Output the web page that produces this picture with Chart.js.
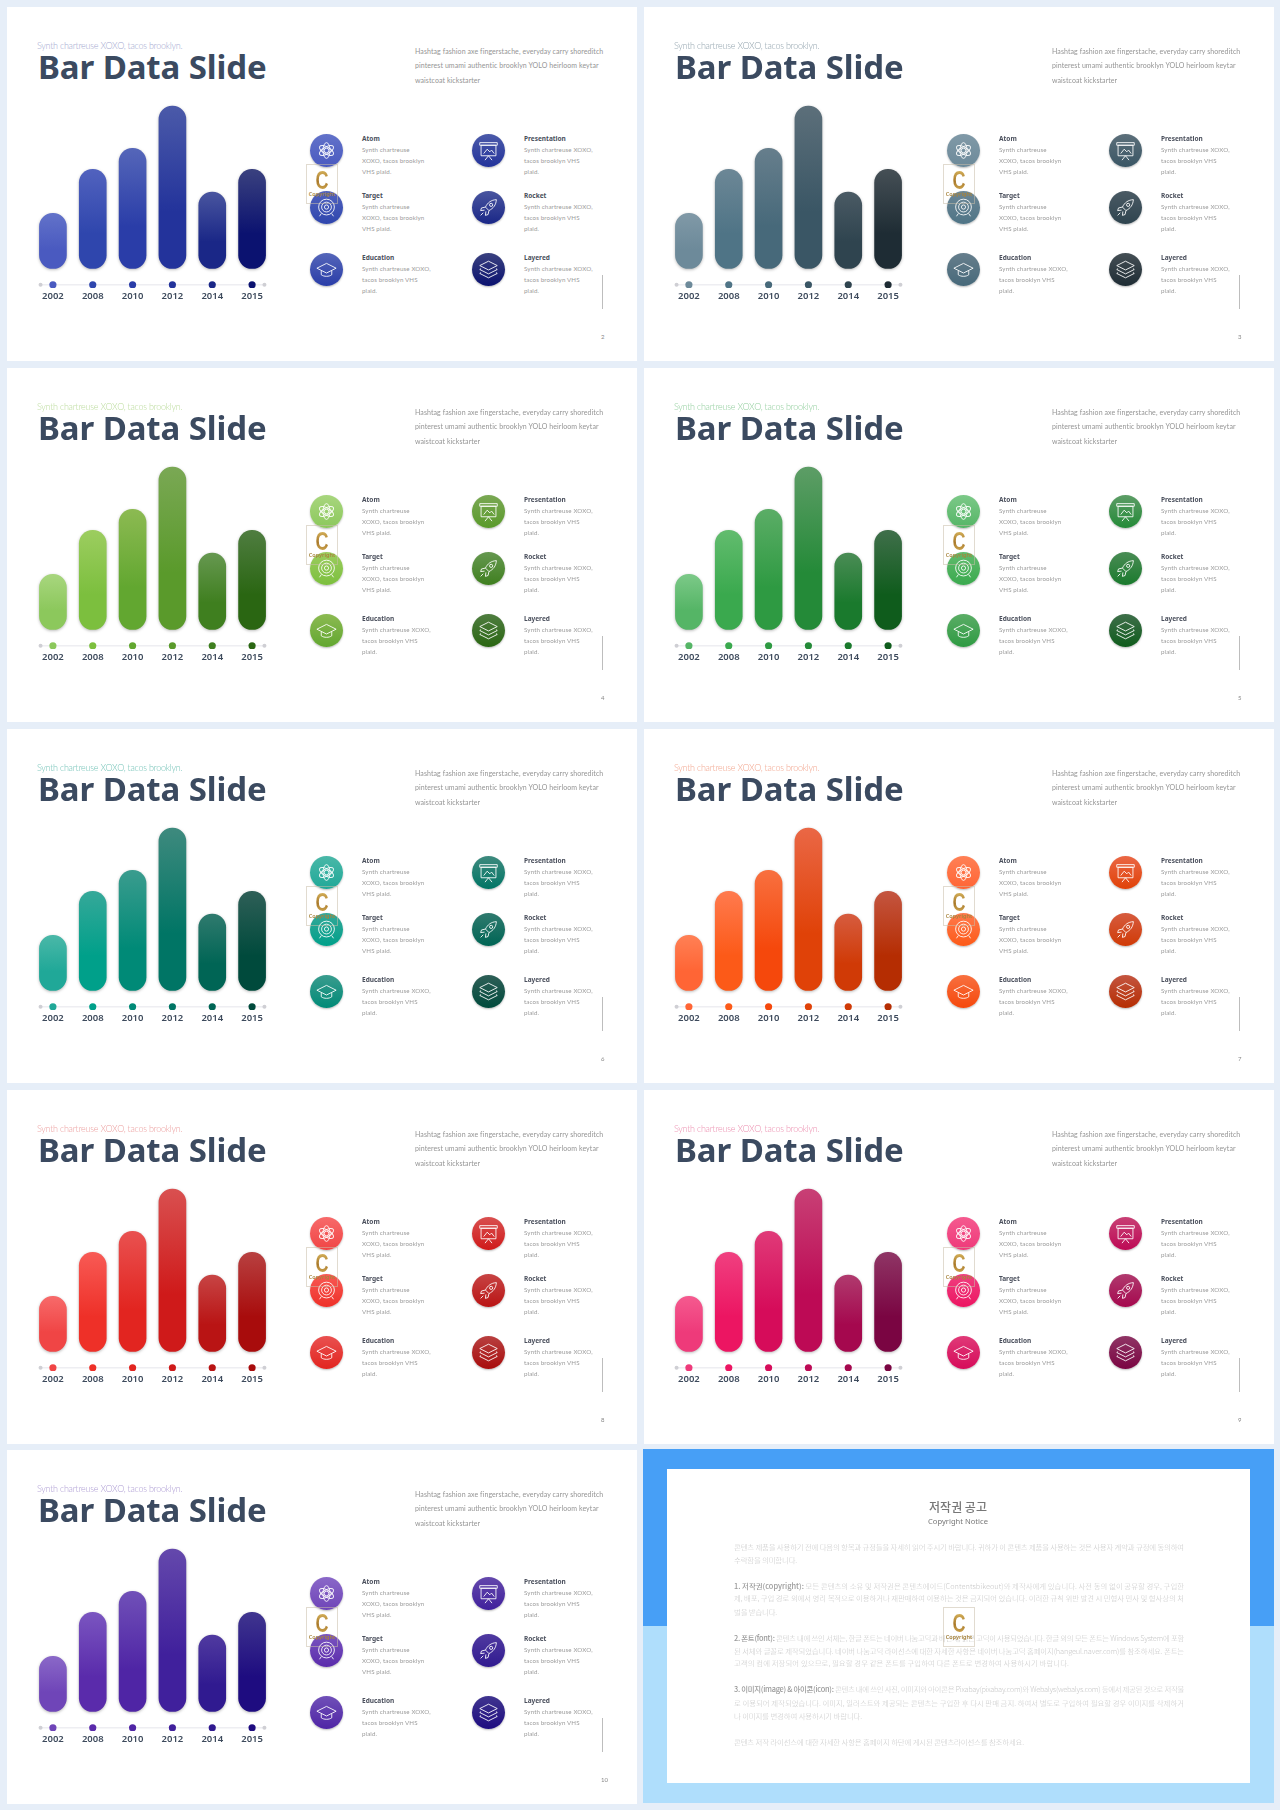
<![CDATA[<!DOCTYPE html>
<html lang="en"><head><meta charset="utf-8">
<script src="https://cdn.jsdelivr.net/npm/chart.js@4"></script>
<style>
html,body{margin:0;padding:0;background:#e6eef8;width:1280px;height:1810px;overflow:hidden}
#page{position:relative;width:1280px;height:1810px;filter:blur(.3px)}
.panel{position:absolute;width:630px;height:354px;background:#fff;overflow:hidden}
.t{position:absolute;white-space:nowrap}
canvas{position:absolute;display:block}
.ball{position:absolute;width:33px;height:33px;border-radius:50%;display:flex;align-items:center;justify-content:center;box-shadow:0 1px 2px rgba(0,0,0,.28)}
.mark{position:absolute;width:30px;height:38px;border:1px solid rgba(200,190,170,.55);box-sizing:content-box}
.mark b{position:absolute;left:0;right:0;top:2px;text-align:center;font:bold 25px/26px "Liberation Sans";transform:scaleX(.72);background:linear-gradient(180deg,#e2c26a,#a9792a 55%,#d9b45c);-webkit-background-clip:text;background-clip:text;color:transparent}
.mark i{position:absolute;left:0;right:0;top:26px;text-align:center;font:normal 600 5.500px/6px "Noto Sans";color:#a8843c}
</style></head><body><div id="page"></div>
<script>
const CATEGORIES=['2002','2008','2010','2012','2014','2015'];
const VALUES=[34,61,74,100,47,61];
const MARKER_LEVEL=[-10,-10,-10,-10,-10,-10];
const RAIL_X=[-0.31,5.31];
const RAIL_LEVEL=[-10,-10];
const PAGE_NUMBERS=['2','3','4','5','6','7','8','9','10'];
const TITLE='Bar Data Slide';
const SUBTITLE='Synth chartreuse XOXO, tacos brooklyn.';
const INTRO=['Hashtag fashion axe fingerstache, everyday carry shoreditch','pinterest umami authentic brooklyn YOLO heirloom keytar','waistcoat kickstarter'];
const ITEM_NAMES=['Atom','Target','Education','Presentation','Rocket','Layered'];
const LINES_NARROW=['Synth chartreuse','XOXO, tacos brooklyn','VHS plaid.'];
const LINES_WIDE=['Synth chartreuse XOXO,','tacos brooklyn VHS','plaid.'];

const PALETTES=[
 [['#6272c9','#4a5ac0'],['#5162be','#2f46ad'],['#5566b9','#2a3da8'],['#4b5aa9','#23339b'],['#49559f','#1a2787'],['#3a417f','#0b1270']],
 [['#8099a7','#6d8a9a'],['#6c8796','#4f7486'],['#667e8c','#47697a'],['#5c6f7a','#3a5665'],['#4a5a64','#2f444f'],['#454f55','#1e2c34']],
 [['#a8d67e','#8cc85c'],['#9ccd5f','#7cbf3e'],['#8cba52','#62a730'],['#7aa854','#5a9a2b'],['#669850','#3f7f1f'],['#4f7d40','#2a6612']],
 [['#7cc988','#55b566'],['#62bc6e','#3aa94e'],['#5bad66','#2e9a42'],['#5d9d66','#248a38'],['#4a8c55','#1a7a2d'],['#3f6f4a','#0f5c1c']],
 [['#4ab8a8','#20a898'],['#35a899','#00a08a'],['#3a9c8e','#008a77'],['#3e8a7e','#007565'],['#2f7a6e','#006555'],['#2e5f57','#004a3c']],
 [['#ff8055','#ff6535'],['#ff7a4e','#fc5a18'],['#f8703f','#f5480c'],['#ea6745','#e04208'],['#d65c3f','#d03a06'],['#c45540','#b52d02']],
 [['#f76a6a','#f04545'],['#f85a55','#ee3028'],['#e95150','#e22520'],['#d95050','#cf1a1a'],['#c74444','#b91414'],['#b84040','#a80c0c']],
 [['#f55a8f','#ee3a7a'],['#f04080','#ec1562'],['#e03a78','#d60c5a'],['#c84075','#bd0a55'],['#b03a6e','#a5084e'],['#8f3565','#7a0542']],
 [['#8a68c8','#6f45b8'],['#7a55c0','#5a2bab'],['#7050b8','#4f25a5'],['#6448ac','#40209c'],['#503aa0','#301a90'],['#40358f','#1e0c80']]
];
const SUB_COLORS=['#a3a8cf','#93a4ae','#bcdc9e','#94cf9f','#77c4b9','#f2a68f','#ec9f9f','#ec90b0','#ad9cd3'];

const ICONS={
 Atom:'<circle cx="12" cy="12" r="2.6"/><ellipse cx="12" cy="12" rx="4" ry="9"/><ellipse cx="12" cy="12" rx="4" ry="9" transform="rotate(60 12 12)"/><ellipse cx="12" cy="12" rx="4" ry="9" transform="rotate(120 12 12)"/>',
 Target:'<circle cx="12" cy="11.5" r="9"/><circle cx="12" cy="11.5" r="5.6"/><circle cx="12" cy="11.5" r="2.4"/><path d="M6 19l-2 3M18 19l2 3"/>',
 Education:'<path d="M12 5L23 10.5 12 16 1 10.5z"/><path d="M6 13.5V18c3 2.4 9 2.4 12 0v-4.5"/>',
 Presentation:'<rect x="2" y="3" width="20" height="3"/><rect x="3.5" y="6" width="17" height="12"/><path d="M6.5 15.5l4-5 3 3 2-2 3 4M12 18l-4 5M12 18l4 5"/>',
 Rocket:'<path d="M21 3c-6 .4-10 3.4-12.5 8.5l4 4C17.600 13 20.600 9 21 3z"/><path d="M8.500 11.500L4 12.500l-1 3 4.500-.5M12.500 15.500l-1 4.500-3 1 .5-4.500"/><circle cx="15" cy="9" r="1.800"/><path d="M6 18l-3 3"/>',
 Layered:'<path d="M12 2.500L22 7.500 12 12.500 2 7.500z"/><path d="M3.500 11L2 12l10 5 10-5-1.500-1"/><path d="M3.500 15.500L2 16.500l10 5 10-5-1.500-1"/>'
};

const page=document.getElementById('page');
function txt(parent,s,x,yc,font,color,ls){
  const d=document.createElement('div');d.className='t';d.textContent=s;
  const m=/(\d+(?:\.\d+)?)px/.exec(font);const lh=+m[1];
  d.style.cssText=`left:${x}px;top:${yc-lh/2}px;font:${font};line-height:${lh}px;color:${color};letter-spacing:${ls||0}px`;
  parent.appendChild(d);return d;
}
function mark(parent,x,y){const w=document.createElement('div');w.className='mark';w.style.left=x+'px';w.style.top=y+'px';w.innerHTML='<b>C</b><i>Copyright</i>';parent.appendChild(w);}

const barShadow={id:'barShadow',
 beforeDatasetDraw(c,a){if(a.meta.type==='bar'){const x=c.ctx;x.save();x.shadowColor='rgba(0,0,0,.28)';x.shadowBlur=3;x.shadowOffsetY=1;}},
 afterDatasetDraw(c,a){if(a.meta.type==='bar')c.ctx.restore();}};

function slide(idx,left,top,chartLeft){
  const pal=PALETTES[idx];
  const p=document.createElement('div');p.className='panel';p.style.left=left+'px';p.style.top=top+'px';page.appendChild(p);
  txt(p,SUBTITLE,30,38,'300 9px Lato',SUB_COLORS[idx],-0.26);
  txt(p,TITLE,31,59.5,'700 33px "Noto Sans"','#3b4a60',-0.1);
  INTRO.forEach((l,i)=>txt(p,l,408,[44,58.5,73][i],'400 7px Lato','#949494',0.08));
  const names=ITEM_NAMES, cols=[319,481], texts=[355,517], ys=[143,200,262];
  names.forEach((n,i)=>{
    const c=i<3?0:1,r=i%3;
    const ball=document.createElement('div');ball.className='ball';
    ball.style.left=(cols[c]-16.5)+'px';ball.style.top=(ys[r]-16.5)+'px';
    ball.style.background=`linear-gradient(180deg,${pal[i][0]},${pal[i][1]})`;
    ball.innerHTML=`<svg width="21" height="21" viewBox="0 0 24 24" fill="none" stroke="#fff" stroke-width="1.100" stroke-opacity=".9" stroke-linejoin="round">${ICONS[n]}</svg>`;
    p.appendChild(ball);
    const y0=[132,189,251][r];
    txt(p,n,texts[c],y0,'700 6.500px "Noto Sans"','#4a4f5c',0);
    const lines=(i<2)?LINES_NARROW:LINES_WIDE;
    lines.forEach((l,j)=>txt(p,l,texts[c],y0+11+j*11,'400 6.200px Lato','#9b9b9b',0.12));
  });
  const v=document.createElement('div');v.style.cssText='position:absolute;left:595px;top:268px;width:1px;height:34px;background:#bdbdbd';p.appendChild(v);
  txt(p,PAGE_NUMBERS[idx],594,330,'400 6px Lato','#888',0);
  mark(p,299,157);

  const cv=document.createElement('canvas');cv.width=239;cv.height=208;cv.style.left=chartLeft+'px';cv.style.top='91px';p.appendChild(cv);
  new Chart(cv,{
    data:{labels:CATEGORIES,datasets:[
      {type:'bar',xAxisID:'x',yAxisID:'y',data:VALUES,grouped:false,barPercentage:1,categoryPercentage:1,maxBarThickness:27,borderRadius:14,borderSkipped:false,order:3,
       backgroundColor(ctx){
         const ch=ctx.chart;const ys=ch.scales.y;
         if(!ch.chartArea||!ys||ctx.parsed===undefined)return pal[ctx.dataIndex][1];
         const g=ch.ctx.createLinearGradient(0,ys.getPixelForValue(ctx.parsed.y),0,ys.getPixelForValue(0));
         g.addColorStop(0,pal[ctx.dataIndex][0]);g.addColorStop(.65,pal[ctx.dataIndex][1]);g.addColorStop(1,pal[ctx.dataIndex][1]);
         return g;
       }},
      {type:'line',xAxisID:'x2',yAxisID:'y',data:RAIL_X.map((x,i)=>({x,y:RAIL_LEVEL[i]})),borderColor:'#eeeef2',borderWidth:1.500,pointRadius:2,pointBackgroundColor:'#cfcfd4',pointBorderWidth:0,order:2},
      {type:'line',xAxisID:'x',yAxisID:'y',data:MARKER_LEVEL,showLine:false,pointRadius:3.600,pointBorderWidth:0,pointBackgroundColor:pal.map(c=>c[1]),order:1}
    ]},
    options:{responsive:false,animation:false,devicePixelRatio:1,
      layout:{padding:0,autoPadding:false},
      plugins:{legend:{display:false},tooltip:{enabled:false}},
      scales:{
        x:{offset:true,grid:{display:false,drawTicks:false},border:{display:false},
           afterFit(s){s.height=18;s.paddingLeft=0;s.paddingRight=0;s.paddingTop=0;s.paddingBottom=0;},
           ticks:{padding:3,color:'#3d4a5c',maxRotation:0,autoSkip:false,font:{family:'"Noto Sans"',size:9.500,weight:'600'}}},
        x2:{axis:'x',type:'linear',display:false,min:-0.5,max:5.5},
        y:{display:false,min:-12,max:105}
      }},
    plugins:[barShadow]
  });
}

const ROW_TOPS=[7,368,729,1090,1450];
const COL_LEFTS=[7,644];
const CHART_LEFTS=[26,25];
let n=0;
for(let r=0;r<5;r++)for(let c=0;c<2;c++){ if(n<9){slide(n,COL_LEFTS[c],ROW_TOPS[r],CHART_LEFTS[c]);n++;} }

/* copyright notice */
const NOTICE_TITLE='저작권 공고', NOTICE_SUB='Copyright Notice';
const NOTICE=[
 [1547,450,'','콘텐츠 제품을 사용하기 전에 다음의 항목과 규정들을 자세히 읽어 주시기 바랍니다. 귀하가 이 콘텐츠 제품을 사용하는 것은 사용자 계약과 규정에 동의하여'],
 [1560,63,'','수락함을 의미합니다.'],
 [1586,450,'1. 저작권(copyright):',' 모든 콘텐츠의 소유 및 저작권은 콘텐츠에이드(Contentsbikeout)와 제작사에게 있습니다. 사전 동의 없이 공유할 경우, 구입한'],
 [1598,450,'','제, 배포, 구입 경로 외에서 영리 목적으로 이용하거나 재판매하여 이용하는 것은 금지되어 있습니다. 이러한 규칙 위반 발견 시 민형사 민사 및 형사상의 처'],
 [1612,43,'','벌을 받습니다.'],
 [1638,450,'2. 폰트(font):',' 콘텐츠 내에 쓰인 서체는, 한글 폰트는 네이버 나눔고딕과 배민체, 맑은 고딕이 사용되었습니다. 한글 외의 모든 폰트는 Windows System에 포함'],
 [1651,450,'','된 서체와 글꼴로 제작되었습니다. 네이버 나눔고딕 라이선스에 대한 자세한 사항은 네이버 나눔고딕 홈페이지(hangeul.naver.com)를 참조하세요. 폰트는'],
 [1663,335,'','고객의 컴에 저장되어 있으므로, 필요할 경우 같은 폰트를 구입하여 다른 폰트로 변경하여 사용하시기 바랍니다.'],
 [1689,450,'3. 이미지(image) & 아이콘(icon):',' 콘텐츠 내에 쓰인 사진, 이미지와 아이콘은 Pixabay(pixabay.com)와 Webalys(webalys.com) 등에서 제공된 것으로 저작물'],
 [1703,450,'','로 이용되어 제작되었습니다. 이미지, 일러스트와 제공되는 콘텐츠는 구입한 후 다시 판매 금지. 하여서 별도로 구입하여 필요할 경우 이미지를 삭제하거'],
 [1716,128,'','나 이미지를 변경하여 사용하시기 바랍니다.'],
 [1742,290,'','콘텐츠 저작 라이선스에 대한 자세한 사항은 홈페이지 하단에 게시된 콘텐츠라이선스를 참조하세요.']
];
(function(){
  const add=(x,y,w,h,bg)=>{const d=document.createElement('div');d.style.cssText=`position:absolute;left:${x}px;top:${y}px;width:${w}px;height:${h}px;background:${bg}`;page.appendChild(d);};
  add(643,1449,631,177,'#479ff6');add(643,1626,631,177,'#afdefc');add(667,1469,583,314,'#fff');
  const a=txt(page,NOTICE_TITLE,958,1507,'500 12px "Noto Sans CJK KR"','#777',0);a.style.transform='translateX(-50%)';
  const b=txt(page,NOTICE_SUB,958,1522,'400 7.600px "Noto Sans"','#777',0);b.style.transform='translateX(-50%)';
  NOTICE.forEach(([y,w,bold,rest])=>{
    const d=txt(page,'',734,y,'300 7.400px "Noto Sans CJK KR"','#c9c9c9',0);
    if(bold){const s=document.createElement('span');s.style.cssText='color:#9a9a9a;font-weight:500';s.textContent=bold;d.appendChild(s);}
    d.appendChild(document.createTextNode(rest));
    const natural=d.getBoundingClientRect().width;
    const chars=(bold+rest).length;
    d.style.letterSpacing=((w-natural)/chars)+'px';
  });
  mark(page,943,1607);
})();
</script></body></html>]]>
